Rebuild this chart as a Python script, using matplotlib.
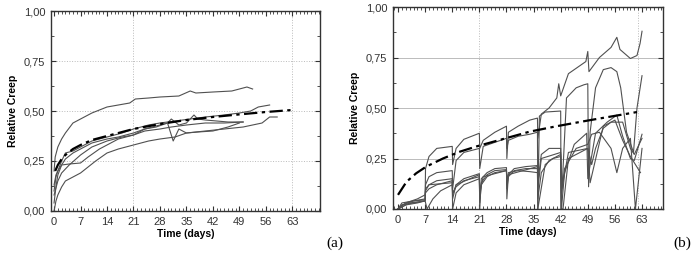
import matplotlib
matplotlib.use("Agg")
import matplotlib.pyplot as plt
from matplotlib.ticker import MultipleLocator, FuncFormatter

# ---- panel (a) data ----
a_top_t = [0, 0.3, 1, 2, 3, 5, 7, 10, 14, 17, 20, 21.5, 25, 28, 33, 36, 37.5, 42, 47, 51, 52.5]
a_top_v = [0.2, 0.27, 0.32, 0.36, 0.39, 0.44, 0.46, 0.49, 0.52, 0.53, 0.54, 0.56, 0.565, 0.57, 0.575, 0.60, 0.59, 0.595, 0.60, 0.62, 0.61]

a_c2_t = [0, 0.5, 1, 2, 3, 5, 7, 10, 14, 18, 21, 25, 28, 32, 36, 40, 45, 49, 52, 54, 57]
a_c2_v = [0.13, 0.18, 0.2, 0.25, 0.29, 0.3, 0.32, 0.35, 0.37, 0.39, 0.41, 0.43, 0.44, 0.45, 0.46, 0.47, 0.48, 0.49, 0.5, 0.52, 0.53]

a_low_t = [0, 0.5, 1, 2, 3, 5, 7, 9, 11, 14, 17, 21, 25, 28, 32, 35, 40, 45, 50, 55, 57, 59]
a_low_v = [0.0, 0.05, 0.08, 0.12, 0.15, 0.17, 0.19, 0.22, 0.25, 0.29, 0.31, 0.33, 0.35, 0.36, 0.37, 0.39, 0.40, 0.41, 0.42, 0.44, 0.47, 0.47]

a_c4_t = [0, 0.5, 1, 2, 4, 7, 9, 12, 14, 17, 21, 24, 28, 31, 35, 40, 45, 50]
a_c4_v = [0.04, 0.12, 0.18, 0.23, 0.235, 0.24, 0.27, 0.31, 0.33, 0.36, 0.38, 0.40, 0.41, 0.42, 0.43, 0.44, 0.44, 0.445]

a_dip_t = [0, 1, 2, 4, 7, 10, 14, 18, 21, 24, 28, 30, 31.5, 33, 35, 38, 42, 46, 49]
a_dip_v = [0.08, 0.15, 0.19, 0.23, 0.28, 0.32, 0.35, 0.37, 0.38, 0.41, 0.43, 0.44, 0.35, 0.41, 0.39, 0.395, 0.40, 0.42, 0.44]

a_pk_t = [0, 0.5, 1, 2, 3, 5, 7, 10, 14, 17, 21, 24, 27, 30, 31, 33, 35, 37, 38, 40, 43, 46, 50]
a_pk_v = [0.1, 0.17, 0.2, 0.23, 0.26, 0.29, 0.31, 0.34, 0.36, 0.37, 0.39, 0.41, 0.42, 0.44, 0.46, 0.43, 0.44, 0.48, 0.46, 0.455, 0.45, 0.445, 0.445]

a_fit_t = [0.3, 1, 2, 3, 5, 7, 10, 14, 21, 28, 35, 42, 49, 56, 63]
a_fit_v = [0.2, 0.23, 0.26, 0.28, 0.31, 0.33, 0.355, 0.375, 0.41, 0.435, 0.455, 0.47, 0.483, 0.495, 0.505]

# ---- panel (b) data ----
b_c1_t = [0, 1, 4, 7, 7.1, 8, 10, 14, 14.1, 15, 17, 21, 21.1, 22, 25, 28, 28.1, 28.5, 31, 34, 36,
          36.1, 37, 39, 41, 41.5, 42, 44, 47, 48.5, 49, 49.3, 52, 55, 56.5, 57.3, 60, 61.7, 62.5, 63]
b_c1_v = [0.0, 0.02, 0.03, 0.04, 0.20, 0.26, 0.30, 0.31, 0.22, 0.30, 0.345, 0.375, 0.30, 0.34, 0.38, 0.41, 0.25, 0.38, 0.41, 0.44, 0.45,
          0.35, 0.47, 0.50, 0.55, 0.62, 0.56, 0.67, 0.71, 0.73, 0.78, 0.68, 0.75, 0.80, 0.85, 0.79, 0.745, 0.76, 0.82, 0.88]

b_c2_t = [0, 1, 4, 7, 7.1, 8, 10, 14, 14.1, 15, 17, 21, 21.1, 22, 25, 28, 28.1, 28.5, 31, 34, 36,
          36.1, 36.5, 38, 42, 42.1, 43.5, 46, 48, 49, 49.2, 49.6, 51, 53, 55, 56.5, 57.5, 59, 60.8, 61.7, 63]
b_c2_v = [0.0, 0.02, 0.04, 0.045, 0.12, 0.16, 0.18, 0.19, 0.10, 0.24, 0.28, 0.30, 0.20, 0.31, 0.33, 0.35, 0.30, 0.34, 0.36, 0.37, 0.38,
          0.0, 0.46, 0.48, 0.485, 0.0, 0.55, 0.60, 0.615, 0.62, 0.11, 0.38, 0.60, 0.69, 0.70, 0.68, 0.60, 0.38, 0.28, 0.50, 0.66]

b_c3_t = [0, 2, 5, 7, 7.1, 8, 10, 14, 14.1, 15, 17, 21, 21.1, 21.5, 23, 25, 28, 28.1, 28.5, 30, 33, 36,
          36.1, 37, 39, 42, 42.2, 43, 45.5, 48.7, 49, 51, 54, 56.5, 58, 60, 61, 63]
b_c3_v = [0.0, 0.03, 0.05, 0.07, 0.09, 0.12, 0.14, 0.15, 0.05, 0.12, 0.15, 0.175, 0.0, 0.15, 0.18, 0.20, 0.205, 0.05, 0.17, 0.20, 0.21, 0.215,
          0.13, 0.27, 0.30, 0.30, 0.0, 0.18, 0.32, 0.375, 0.15, 0.375, 0.43, 0.465, 0.36, 0.25, 0.24, 0.37]

b_c4_t = [0, 2, 5, 7, 7.1, 8, 10, 14, 14.1, 15, 17, 21, 21.1, 21.5, 23, 25, 28, 28.1, 28.5, 30, 33, 36,
          36.1, 38, 40, 42, 42.1, 42.6, 44, 46, 49, 50, 51, 53, 55, 58, 60, 61, 63]
b_c4_v = [0.0, 0.02, 0.03, 0.04, 0.08, 0.10, 0.12, 0.14, 0.08, 0.11, 0.14, 0.16, 0.05, 0.13, 0.17, 0.19, 0.195, 0.10, 0.16, 0.19, 0.20, 0.20,
          0.0, 0.22, 0.25, 0.26, 0.0, 0.0, 0.25, 0.27, 0.30, 0.22, 0.30, 0.40, 0.43, 0.43, 0.30, 0.27, 0.35]

b_c5_t = [0, 3, 7, 7.5, 9, 11, 14, 14.1, 15, 17, 21, 21.1, 21.5, 23, 25, 28, 28.1, 28.5, 31, 34, 36,
          36.1, 37, 39, 42, 42.2, 43, 46, 49, 50, 52, 55, 56.5, 58, 60, 61.3, 63]
b_c5_v = [0.0, 0.03, 0.04, 0.0, 0.05, 0.09, 0.12, 0.0, 0.08, 0.12, 0.15, 0.03, 0.12, 0.16, 0.18, 0.19, 0.13, 0.18, 0.19, 0.185, 0.18,
          0.05, 0.18, 0.24, 0.27, 0.08, 0.20, 0.30, 0.32, 0.37, 0.38, 0.30, 0.18, 0.30, 0.35, 0.0, 0.30]

b_c6_t = [0, 1, 4, 7, 7.1, 8, 14, 14.1, 15, 21, 21.1, 22, 28, 28.1, 28.5, 36, 36.1, 37, 42, 42.3, 44, 49, 49.6, 53, 56, 58, 60, 62.6]
b_c6_v = [0.0, 0.03, 0.04, 0.05, 0.10, 0.12, 0.13, 0.07, 0.12, 0.17, 0.08, 0.16, 0.19, 0.12, 0.17, 0.21, 0.10, 0.25, 0.28, 0.10, 0.28, 0.30, 0.13, 0.41, 0.44, 0.34, 0.26, 0.18]

b_fit_t = [0, 2.2, 4.7, 7.3, 11.6, 16, 20.3, 26.3, 34, 41, 49.6, 61.7]
b_fit_v = [0.07, 0.135, 0.177, 0.21, 0.25, 0.284, 0.31, 0.342, 0.383, 0.41, 0.44, 0.48]

x_ticks = [0, 7, 14, 21, 28, 35, 42, 49, 56, 63]

GRAY = "#505050"


def style_axes(ax, xlim, vgrid, hgrid_style):
    ax.set_xlim(*xlim)
    ax.set_ylim(0, 1)
    ax.set_xticks(x_ticks)
    ax.set_yticks([0, 0.25, 0.5, 0.75, 1.0])
    ax.xaxis.set_minor_locator(MultipleLocator(1))
    ax.yaxis.set_minor_locator(MultipleLocator(0.125))
    ax.yaxis.set_major_formatter(FuncFormatter(lambda v, p: f"{v:.2f}".replace(".", ",")))
    ax.tick_params(which="both", direction="in", top=True, right=True,
                   labelsize=8, colors="#333333", pad=4)
    ax.tick_params(which="major", length=3.5, width=0.8)
    ax.tick_params(which="minor", length=2, width=0.6)
    for s in ax.spines.values():
        s.set_linewidth(1.0)
        s.set_color("#333333")
    for x in vgrid:
        ax.axvline(x, color="#bbbbbb", lw=0.7, ls=":", zorder=0)
    for y in (0.25, 0.5, 0.75):
        ax.axhline(y, color="#bbbbbb", lw=0.7, ls=hgrid_style, zorder=0)
    ax.set_xlabel("Time (days)", fontsize=7.5, fontweight="bold", labelpad=2)
    ax.set_ylabel("Relative Creep", fontsize=7.5, fontweight="bold", labelpad=4)


plt.rcParams["font.family"] = ["Liberation Sans", "DejaVu Sans"]
fig = plt.figure(figsize=(7, 2.56), dpi=100)
ax1 = fig.add_axes([0.0729, 0.1758, 0.3836, 0.7812])
ax2 = fig.add_axes([0.5614, 0.1836, 0.3862, 0.789])

for t, v in [(a_top_t, a_top_v), (a_c2_t, a_c2_v), (a_low_t, a_low_v),
             (a_c4_t, a_c4_v), (a_dip_t, a_dip_v), (a_pk_t, a_pk_v)]:
    ax1.plot(t, v, color=GRAY, lw=0.8)
ax1.plot(a_fit_t, a_fit_v, color="black", lw=1.6, dashes=(6, 2, 1.5, 2))
style_axes(ax1, (-0.8, 70.2), [21, 63], ":")

for t, v in [(b_c1_t, b_c1_v), (b_c2_t, b_c2_v), (b_c3_t, b_c3_v),
             (b_c4_t, b_c4_v), (b_c5_t, b_c5_v), (b_c6_t, b_c6_v)]:
    ax2.plot(t, v, color=GRAY, lw=0.8)
ax2.plot(b_fit_t, b_fit_v, color="black", lw=1.6, dashes=(6, 2, 1.5, 2))
style_axes(ax2, (-1.3, 68.5), [21, 62], "-")

fig.text(335 / 700, 1 - 243 / 256, "(a)", family="Liberation Serif", fontsize=11, ha="center", va="center")
fig.text(682 / 700, 1 - 243 / 256, "(b)", family="Liberation Serif", fontsize=11, ha="center", va="center")

fig.savefig("out.png", dpi=100)
